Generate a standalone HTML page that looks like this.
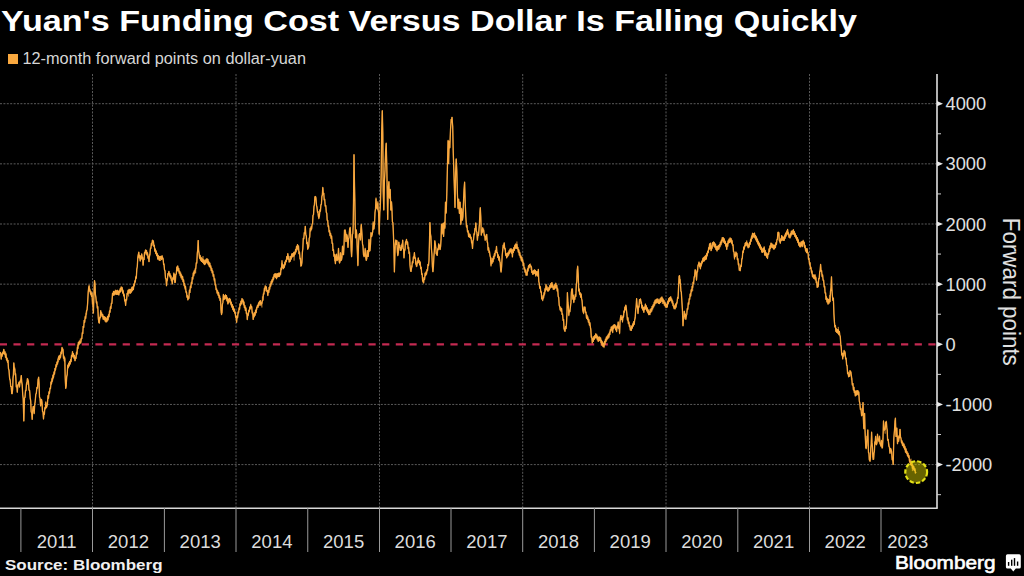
<!DOCTYPE html>
<html><head><meta charset="utf-8"><style>
html,body{margin:0;padding:0;background:#000;width:1024px;height:576px;overflow:hidden}
svg{display:block}
</style></head><body>
<svg width="1024" height="576" viewBox="0 0 1024 576">
<rect width="1024" height="576" fill="#000"/>
<text x="1" y="31" font-family='"Liberation Sans", sans-serif' font-weight="bold" font-size="30" fill="#ffffff" textLength="856" lengthAdjust="spacingAndGlyphs">Yuan's Funding Cost Versus Dollar Is Falling Quickly</text>
<rect x="8" y="54" width="10" height="10" fill="#f9a83f"/>
<text x="22.5" y="64.3" font-family='"Liberation Sans", sans-serif' font-size="15.6" fill="#d6d6d6" textLength="283.5" lengthAdjust="spacingAndGlyphs">12-month forward points on dollar-yuan</text>
<line x1="0" y1="103.70" x2="937" y2="103.70" stroke="#5a5a5a" stroke-width="1" stroke-dasharray="2 1.4"/>
<line x1="0" y1="163.85" x2="937" y2="163.85" stroke="#5a5a5a" stroke-width="1" stroke-dasharray="2 1.4"/>
<line x1="0" y1="224.00" x2="937" y2="224.00" stroke="#5a5a5a" stroke-width="1" stroke-dasharray="2 1.4"/>
<line x1="0" y1="284.15" x2="937" y2="284.15" stroke="#5a5a5a" stroke-width="1" stroke-dasharray="2 1.4"/>
<line x1="0" y1="404.45" x2="937" y2="404.45" stroke="#5a5a5a" stroke-width="1" stroke-dasharray="2 1.4"/>
<line x1="0" y1="464.60" x2="937" y2="464.60" stroke="#5a5a5a" stroke-width="1" stroke-dasharray="2 1.4"/>
<line x1="92.5" y1="74" x2="92.5" y2="508" stroke="#5a5a5a" stroke-width="1" stroke-dasharray="2 1.4"/>
<line x1="236" y1="74" x2="236" y2="508" stroke="#5a5a5a" stroke-width="1" stroke-dasharray="2 1.4"/>
<line x1="379.5" y1="74" x2="379.5" y2="508" stroke="#5a5a5a" stroke-width="1" stroke-dasharray="2 1.4"/>
<line x1="522.7" y1="74" x2="522.7" y2="508" stroke="#5a5a5a" stroke-width="1" stroke-dasharray="2 1.4"/>
<line x1="666" y1="74" x2="666" y2="508" stroke="#5a5a5a" stroke-width="1" stroke-dasharray="2 1.4"/>
<line x1="809.5" y1="74" x2="809.5" y2="508" stroke="#5a5a5a" stroke-width="1" stroke-dasharray="2 1.4"/>
<line x1="0" y1="344.3" x2="937" y2="344.3" stroke="#c42a52" stroke-width="2.3" stroke-dasharray="7.2 6.455" stroke-dashoffset="0.2"/>
<path d="M0.0,352.0 L0.6,352.4 L1.2,359.8 L1.6,353.8 L2.1,356.7 L2.5,351.7 L3.1,354.1 L3.8,349.4 L4.4,354.9 L5.0,351.2 L5.5,357.7 L6.0,352.9 L6.5,359.7 L7.0,357.9 L7.5,362.7 L8.0,359.8 L8.5,369.1 L9.0,369.9 L9.6,379.9 L10.2,379.4 L10.7,386.9 L11.2,386.2 L11.7,394.0 L12.2,392.4 L12.6,390.3 L13.0,378.6 L13.4,375.2 L13.8,362.2 L14.3,369.0 L14.8,367.5 L15.2,374.6 L15.6,373.2 L16.3,386.6 L16.8,385.9 L17.3,392.6 L17.9,384.3 L18.5,384.7 L19.0,382.4 L19.5,386.6 L20.1,380.8 L20.6,382.8 L21.3,375.1 L21.8,383.2 L22.2,383.3 L22.7,394.6 L23.2,398.3 L23.8,421.5 L24.5,398.1 L25.0,397.6 L25.5,390.2 L26.0,390.5 L26.5,382.2 L26.9,384.9 L27.4,378.6 L27.8,380.7 L28.4,381.2 L29.0,390.5 L29.6,390.3 L30.2,398.7 L30.7,401.0 L31.2,411.5 L31.7,412.2 L32.2,419.8 L32.7,409.2 L33.2,406.7 L33.7,407.0 L34.2,414.2 L34.7,403.7 L35.2,402.7 L35.8,394.5 L36.3,394.1 L36.9,387.3 L37.5,388.2 L38.1,379.1 L38.7,378.8 L39.1,383.1 L39.5,396.6 L40.0,398.0 L40.6,406.4 L41.1,399.5 L41.6,400.1 L42.0,402.1 L42.5,411.5 L43.0,411.0 L43.5,419.5 L43.9,412.1 L44.4,414.3 L44.8,407.3 L45.3,409.0 L45.8,401.3 L46.3,408.3 L46.8,405.7 L47.4,404.5 L48.0,395.1 L48.5,398.5 L49.0,391.5 L49.5,394.1 L50.0,387.8 L50.5,388.1 L51.0,381.9 L51.5,384.4 L52.0,377.7 L52.5,382.1 L53.0,374.7 L53.5,378.5 L54.0,371.2 L54.5,373.8 L55.0,368.2 L55.5,370.6 L56.0,364.3 L56.5,366.4 L57.0,361.6 L57.5,363.9 L58.0,359.2 L58.5,362.2 L59.0,356.4 L59.5,360.1 L60.0,354.7 L60.5,358.4 L61.0,351.4 L61.5,353.9 L62.0,347.7 L62.5,349.4 L63.0,349.6 L63.5,358.2 L63.9,355.8 L64.4,362.1 L64.8,358.9 L65.2,378.5 L65.7,388.4 L66.2,386.6 L66.7,377.0 L67.2,375.4 L67.7,364.5 L68.2,368.3 L68.7,363.4 L69.2,366.4 L69.6,361.1 L70.1,364.0 L70.6,359.0 L71.1,361.5 L71.5,355.6 L72.0,357.3 L72.5,352.3 L73.0,357.0 L73.5,353.0 L74.0,358.5 L74.5,356.0 L75.0,361.1 L75.5,357.9 L76.0,358.9 L76.5,352.5 L77.0,354.5 L77.4,344.6 L77.9,348.5 L78.4,342.2 L78.9,345.1 L79.4,340.6 L79.8,344.2 L80.3,338.6 L80.8,343.5 L81.3,337.8 L81.8,339.1 L82.3,331.9 L82.8,333.8 L83.2,326.1 L83.7,327.6 L84.2,320.3 L84.7,322.4 L85.2,315.8 L85.7,319.0 L86.1,313.1 L86.6,314.7 L87.1,308.9 L87.6,303.9 L88.2,291.8 L88.7,288.3 L89.1,284.7 L89.6,291.0 L90.0,288.6 L90.5,295.1 L91.0,291.3 L91.5,296.5 L92.0,292.6 L92.5,303.2 L92.9,304.1 L93.4,312.4 L94.0,292.4 L94.5,280.3 L95.0,284.1 L95.4,294.7 L95.9,296.9 L96.4,303.7 L96.8,301.6 L97.3,308.9 L97.8,307.4 L98.3,319.3 L98.8,322.3 L99.3,323.8 L99.8,316.9 L100.2,318.0 L100.7,310.1 L101.2,315.5 L101.7,312.1 L102.2,317.0 L102.7,314.4 L103.2,319.6 L103.7,316.1 L104.2,320.2 L104.7,316.5 L105.2,320.9 L105.6,317.1 L106.1,322.4 L106.6,318.0 L107.1,322.1 L107.5,316.7 L108.0,320.3 L108.5,314.6 L109.0,317.3 L109.5,310.1 L110.0,312.6 L110.4,307.2 L110.9,308.8 L111.4,302.7 L111.9,303.7 L112.5,296.1 L113.0,296.0 L113.5,291.9 L114.0,295.7 L114.5,291.3 L114.9,294.6 L115.4,289.6 L115.9,293.6 L116.4,290.3 L116.9,295.0 L117.3,289.8 L117.8,294.9 L118.3,290.6 L118.8,295.5 L119.3,290.6 L119.8,293.0 L120.2,288.9 L120.7,291.9 L121.2,286.8 L121.7,289.7 L122.2,286.9 L122.7,292.6 L123.2,289.7 L123.7,295.5 L124.2,293.6 L124.7,300.6 L125.1,299.6 L125.6,305.9 L126.1,299.0 L126.6,299.8 L127.1,293.3 L127.6,293.8 L128.1,289.7 L128.6,296.5 L129.1,288.8 L129.5,293.5 L130.0,288.9 L130.5,293.3 L131.0,289.0 L131.5,292.5 L131.9,286.7 L132.4,291.1 L132.9,286.4 L133.4,289.5 L133.9,284.0 L134.4,286.4 L134.9,280.4 L135.3,282.5 L135.8,275.9 L136.3,277.9 L136.8,269.1 L137.3,267.2 L137.8,256.1 L138.3,254.5 L138.8,251.7 L139.2,258.7 L139.7,255.3 L140.2,260.7 L140.7,255.2 L141.2,259.0 L141.7,253.4 L142.2,256.6 L142.6,257.3 L143.1,265.3 L143.6,259.0 L144.1,259.8 L144.5,252.4 L145.0,253.0 L145.5,249.3 L146.0,254.8 L146.5,250.7 L147.0,255.7 L147.5,252.4 L148.0,258.3 L148.5,255.9 L149.0,262.2 L149.5,255.0 L149.9,256.3 L150.4,247.5 L150.9,248.5 L151.4,243.3 L151.9,245.3 L152.4,240.5 L152.9,242.8 L153.4,240.2 L153.9,246.8 L154.3,244.9 L154.8,251.6 L155.3,248.7 L155.8,254.0 L156.2,251.3 L156.7,256.1 L157.2,253.7 L157.7,259.8 L158.2,255.1 L158.7,260.4 L159.1,256.0 L159.6,260.9 L160.1,257.0 L160.6,261.0 L161.1,256.6 L161.6,259.5 L162.1,255.1 L162.6,258.9 L163.1,257.5 L163.6,264.4 L164.0,263.2 L164.5,270.2 L165.0,270.3 L165.5,279.2 L166.0,278.2 L166.5,286.1 L167.0,279.3 L167.4,281.1 L167.9,273.5 L168.4,274.4 L168.9,271.5 L169.4,276.7 L169.9,273.2 L170.4,278.6 L170.9,275.4 L171.4,281.2 L171.8,278.7 L172.3,284.5 L172.8,277.5 L173.3,278.9 L173.8,272.4 L174.3,274.0 L174.8,281.8 L175.3,282.9 L175.8,274.2 L176.3,274.6 L176.8,266.4 L177.2,271.0 L177.7,266.1 L178.2,271.6 L178.7,268.2 L179.2,274.0 L179.7,270.8 L180.2,276.2 L180.7,272.2 L181.1,278.4 L181.6,274.3 L182.1,280.1 L182.6,276.6 L183.1,281.9 L183.6,279.0 L184.1,285.2 L184.5,283.1 L185.0,289.6 L185.5,286.5 L186.0,293.2 L186.5,291.5 L187.0,297.7 L187.5,295.3 L187.9,300.1 L188.4,297.3 L188.9,298.8 L189.4,291.9 L189.9,292.9 L190.4,285.9 L190.9,288.3 L191.4,281.7 L191.9,284.2 L192.3,277.3 L192.8,279.8 L193.3,273.0 L193.8,276.5 L194.2,270.8 L194.7,274.0 L195.2,268.1 L195.7,273.2 L196.3,262.2 L196.8,263.0 L197.3,252.8 L197.7,250.4 L198.2,240.0 L198.6,251.4 L199.1,253.1 L199.6,258.5 L200.1,255.4 L200.5,259.7 L201.0,257.1 L201.5,261.7 L202.0,257.6 L202.5,263.0 L203.0,256.0 L203.5,264.2 L204.0,259.4 L204.5,264.7 L205.0,261.3 L205.5,264.1 L205.9,260.0 L206.4,262.8 L206.9,258.1 L207.4,262.4 L207.9,259.6 L208.4,265.1 L208.8,261.9 L209.3,266.6 L209.8,262.8 L210.3,267.7 L210.8,265.0 L211.2,271.2 L211.7,268.2 L212.2,273.4 L212.7,270.8 L213.2,276.5 L213.7,274.2 L214.2,281.4 L214.7,278.1 L215.2,285.6 L215.6,283.8 L216.1,290.3 L216.6,288.6 L217.1,293.9 L217.6,290.7 L218.1,294.9 L218.6,292.2 L219.1,298.4 L219.6,294.9 L220.0,301.1 L220.5,298.0 L221.0,313.0 L221.5,313.7 L222.0,312.5 L222.4,303.6 L222.9,302.6 L223.4,293.9 L224.0,299.5 L224.5,295.5 L225.0,299.3 L225.5,294.2 L226.0,297.7 L226.5,295.2 L226.9,300.5 L227.4,297.4 L227.9,304.5 L228.4,299.8 L228.9,303.3 L229.3,298.2 L229.8,301.7 L230.3,298.6 L230.8,305.4 L231.3,301.7 L231.8,307.8 L232.3,305.0 L232.8,309.2 L233.2,305.8 L233.7,311.1 L234.2,309.0 L234.7,313.3 L235.2,311.7 L235.6,318.1 L236.1,315.9 L236.6,322.7 L237.1,315.1 L237.6,318.3 L238.1,310.9 L238.6,313.7 L239.1,307.8 L239.6,309.0 L240.0,304.0 L240.5,305.6 L241.0,300.9 L241.5,303.3 L242.0,298.3 L242.5,301.8 L243.0,299.7 L243.4,305.4 L243.9,301.9 L244.4,307.4 L244.9,305.0 L245.4,310.9 L245.9,308.4 L246.4,314.2 L246.9,312.6 L247.3,319.7 L247.8,314.2 L248.3,315.9 L248.8,309.8 L249.3,312.2 L249.8,306.7 L250.2,309.3 L250.7,303.8 L251.2,307.2 L251.7,306.3 L252.2,314.2 L252.7,311.5 L253.2,320.0 L253.7,314.1 L254.1,317.0 L254.6,312.3 L255.1,314.9 L255.6,310.5 L256.1,313.1 L256.6,307.6 L257.0,309.7 L257.5,304.8 L258.0,307.8 L258.5,302.2 L259.0,305.5 L259.5,300.8 L260.0,303.3 L260.5,300.1 L260.9,305.4 L261.4,302.2 L261.9,307.5 L262.4,296.4 L262.9,300.6 L263.4,292.6 L263.9,293.9 L264.4,287.7 L264.9,291.1 L265.3,285.7 L265.8,288.6 L266.3,286.4 L266.8,291.7 L267.3,290.2 L267.8,296.1 L268.3,290.5 L268.8,292.9 L269.2,286.9 L269.7,290.2 L270.2,284.1 L270.7,286.6 L271.2,281.7 L271.6,283.8 L272.1,279.8 L272.6,282.5 L273.1,276.6 L273.6,280.2 L274.1,274.3 L274.6,276.0 L275.1,273.3 L275.6,277.8 L276.0,275.8 L276.5,277.9 L277.0,273.2 L277.5,277.6 L278.0,273.1 L278.5,276.8 L279.0,272.2 L279.5,277.1 L280.0,273.4 L280.5,275.0 L281.0,268.4 L281.5,270.2 L282.0,263.1 L282.5,268.1 L282.9,264.6 L283.4,268.3 L283.9,264.6 L284.4,268.1 L284.9,261.8 L285.3,265.3 L285.8,259.9 L286.3,261.6 L286.8,256.2 L287.3,259.4 L287.8,253.6 L288.3,259.7 L288.8,256.0 L289.2,262.1 L289.7,259.2 L290.2,261.7 L290.7,256.1 L291.2,259.1 L291.7,253.5 L292.2,257.7 L292.7,253.4 L293.1,256.9 L293.6,251.8 L294.1,260.6 L294.6,252.1 L295.1,254.3 L295.6,249.6 L296.1,252.7 L296.5,246.0 L297.0,249.0 L297.5,244.1 L298.0,250.6 L298.5,247.9 L299.0,254.1 L299.5,251.7 L300.0,258.6 L300.4,258.1 L300.9,266.2 L301.4,265.2 L301.9,263.1 L302.4,251.1 L302.8,248.8 L303.3,237.8 L303.8,238.8 L304.3,232.1 L304.8,233.4 L305.3,226.0 L305.8,234.7 L306.3,235.9 L306.8,243.9 L307.3,243.1 L307.7,249.0 L308.2,247.0 L308.7,246.7 L309.2,238.4 L309.7,237.1 L310.2,227.8 L310.7,230.8 L311.1,226.4 L311.6,230.1 L312.1,223.9 L312.6,223.4 L313.0,215.6 L313.5,214.4 L314.0,206.7 L314.4,205.6 L314.9,197.3 L315.4,196.1 L315.9,196.8 L316.5,205.8 L317.0,206.5 L317.5,212.8 L317.9,211.0 L318.4,216.7 L318.9,215.2 L319.4,216.6 L319.9,209.3 L320.4,211.3 L320.9,204.3 L321.4,205.0 L321.9,195.5 L322.3,195.6 L322.8,187.9 L323.3,194.4 L323.8,193.3 L324.2,200.3 L324.7,199.3 L325.2,206.4 L325.8,205.2 L326.3,212.5 L326.8,212.7 L327.2,220.9 L327.7,220.3 L328.2,226.4 L328.6,225.4 L329.1,231.9 L329.6,230.2 L330.1,235.8 L330.6,233.4 L331.1,238.5 L331.6,235.8 L332.1,243.8 L332.6,242.7 L333.0,251.1 L333.5,249.4 L334.0,256.7 L334.4,254.2 L334.9,261.0 L335.4,258.8 L336.0,255.0 L336.5,254.5 L337.0,261.2 L337.5,260.1 L338.0,257.6 L338.5,248.2 L339.0,261.3 L339.5,262.8 L340.0,262.5 L340.5,252.4 L341.0,260.9 L341.5,260.2 L342.0,256.5 L342.5,246.3 L343.0,253.7 L343.5,254.3 L344.0,246.4 L344.5,230.2 L345.2,230.0 L345.6,231.9 L346.0,241.9 L346.5,233.8 L347.0,235.7 L347.5,236.9 L348.0,247.9 L348.5,238.8 L349.0,237.5 L349.6,229.0 L350.2,227.9 L350.8,237.5 L351.2,250.8 L351.6,256.0 L352.0,248.7 L352.4,234.3 L352.8,233.6 L353.2,225.7 L353.6,194.7 L354.0,154.7 L354.4,180.5 L354.8,197.6 L355.5,238.1 L355.9,229.4 L356.3,229.8 L356.8,235.2 L357.2,248.0 L357.9,265.4 L358.6,242.9 L359.1,234.3 L359.5,234.2 L360.0,233.0 L360.5,240.6 L360.9,228.8 L361.3,225.1 L362.0,233.6 L362.5,244.5 L363.0,246.4 L363.5,255.4 L364.0,256.2 L364.6,256.1 L365.2,247.8 L365.8,258.7 L366.3,260.4 L366.8,258.8 L367.3,250.2 L367.8,256.9 L368.2,256.3 L368.6,251.7 L369.0,239.6 L369.5,251.9 L370.0,249.1 L370.5,245.7 L371.0,232.0 L371.6,237.0 L372.2,233.8 L372.7,232.3 L373.2,221.2 L373.6,229.9 L374.0,227.4 L374.5,223.7 L375.0,212.3 L375.5,208.5 L376.0,197.5 L376.5,205.0 L377.0,208.0 L377.4,208.8 L377.8,201.2 L378.2,210.9 L378.6,211.6 L379.2,234.5 L379.8,211.9 L380.2,209.0 L380.6,195.2 L381.2,174.0 L381.7,130.6 L382.3,111.0 L382.8,133.1 L383.2,192.7 L383.8,210.4 L384.4,182.5 L385.0,169.5 L385.6,152.4 L386.2,143.4 L386.8,166.9 L387.3,198.6 L387.7,220.0 L388.3,187.8 L388.9,181.7 L389.5,198.1 L390.2,189.6 L390.8,210.0 L391.5,201.7 L391.9,207.6 L392.4,221.8 L392.9,222.2 L393.3,231.7 L393.9,247.2 L394.4,272.3 L394.9,253.6 L395.3,244.3 L395.8,239.4 L396.4,244.4 L396.9,240.7 L397.4,252.5 L397.8,255.4 L398.3,253.0 L398.8,241.9 L399.3,247.8 L399.8,244.8 L400.3,250.8 L400.8,247.2 L401.3,250.2 L401.8,243.7 L402.2,246.7 L402.7,240.3 L403.1,248.4 L403.6,249.2 L404.0,258.5 L404.5,249.2 L405.0,250.7 L405.5,241.3 L406.0,243.0 L406.5,239.8 L407.1,245.0 L407.6,241.5 L408.1,248.5 L408.6,247.6 L409.0,254.1 L409.5,252.2 L410.0,265.4 L410.5,269.2 L411.0,272.0 L411.4,265.6 L411.9,267.1 L412.4,261.0 L412.9,262.9 L413.4,256.9 L413.9,258.7 L414.4,252.5 L414.9,258.6 L415.4,257.1 L415.8,264.4 L416.3,267.0 L416.8,266.8 L417.3,260.3 L417.8,263.0 L418.3,258.1 L418.8,262.3 L419.2,260.0 L419.7,265.0 L420.2,262.3 L420.7,268.3 L421.2,266.8 L421.7,274.1 L422.2,273.5 L422.6,281.5 L423.1,281.5 L423.6,282.7 L424.1,277.2 L424.6,278.8 L425.1,272.6 L425.6,275.9 L426.1,271.6 L426.5,274.1 L427.0,269.7 L427.5,270.9 L428.0,264.3 L428.5,265.9 L429.0,260.3 L429.4,244.7 L429.9,222.4 L430.4,233.5 L430.9,236.8 L431.4,249.7 L431.9,253.5 L432.4,266.4 L432.9,271.9 L433.4,267.9 L433.9,255.0 L434.3,252.8 L434.8,240.6 L435.3,247.4 L435.8,247.0 L436.2,254.0 L436.7,254.4 L437.2,255.5 L437.7,248.8 L438.2,250.1 L438.7,243.7 L439.2,249.3 L439.6,244.8 L440.1,250.1 L440.6,246.4 L441.1,238.4 L441.5,223.6 L442.2,234.7 L442.6,224.2 L443.0,224.7 L443.6,236.3 L444.3,223.0 L444.9,227.3 L445.5,202.0 L446.2,212.2 L446.8,193.6 L447.4,167.8 L448.1,140.8 L448.6,162.8 L449.2,141.9 L449.8,147.7 L450.5,130.8 L451.2,119.3 L451.6,121.9 L452.0,116.9 L452.7,126.6 L453.2,150.3 L453.8,170.8 L454.4,188.4 L455.0,207.8 L455.6,173.4 L456.2,159.0 L456.8,169.7 L457.4,194.1 L458.0,207.8 L458.7,200.5 L459.4,213.1 L460.1,202.2 L460.8,224.0 L461.2,219.7 L461.6,207.8 L462.0,218.8 L462.4,220.4 L462.9,216.8 L463.3,206.3 L464.0,190.6 L464.6,181.6 L465.2,201.6 L465.8,215.8 L466.5,227.0 L467.0,224.9 L467.5,232.4 L468.1,230.4 L468.6,236.9 L469.1,232.7 L469.6,238.0 L470.1,233.8 L470.6,238.5 L471.1,236.7 L471.6,243.3 L472.0,242.5 L472.5,248.0 L473.0,240.3 L473.5,239.7 L474.0,232.8 L474.5,235.2 L474.9,228.6 L475.4,229.2 L475.8,223.2 L476.3,231.0 L476.9,232.4 L477.4,240.4 L477.9,233.9 L478.5,235.0 L479.0,229.0 L479.4,224.8 L479.9,212.3 L480.3,208.2 L480.8,217.3 L481.3,235.5 L481.8,230.1 L482.2,233.3 L482.7,227.4 L483.2,231.5 L483.7,228.6 L484.2,236.4 L484.7,234.2 L485.2,241.0 L485.7,236.0 L486.2,239.7 L486.7,234.0 L487.2,242.5 L487.6,241.7 L488.1,250.2 L488.6,247.1 L489.1,253.0 L489.5,250.6 L490.0,256.8 L490.5,256.9 L491.0,266.6 L491.5,257.7 L492.0,263.9 L492.5,258.6 L493.0,262.3 L493.5,256.0 L493.9,259.5 L494.4,254.1 L494.9,256.5 L495.4,250.2 L496.0,253.1 L496.5,246.6 L496.9,252.7 L497.4,252.0 L497.8,258.1 L498.3,255.1 L498.8,259.7 L499.3,256.6 L499.8,261.6 L500.2,262.6 L500.7,271.3 L501.1,271.6 L501.6,267.2 L502.2,255.1 L502.7,251.2 L503.2,244.6 L503.7,247.5 L504.2,242.8 L504.7,249.4 L505.2,248.7 L505.7,255.8 L506.2,253.5 L506.7,257.2 L507.1,253.5 L507.6,257.1 L508.1,252.0 L508.6,255.0 L509.1,250.1 L509.5,253.5 L510.0,248.5 L510.5,251.9 L511.0,248.2 L511.4,253.8 L511.9,249.5 L512.4,254.2 L512.9,248.8 L513.4,252.5 L513.8,246.9 L514.3,250.1 L514.8,245.6 L515.3,249.1 L515.8,244.0 L516.4,248.8 L516.9,241.5 L517.4,249.2 L517.8,247.1 L518.3,252.6 L518.8,249.7 L519.3,255.9 L519.8,251.8 L520.3,258.3 L520.8,255.1 L521.3,260.9 L521.8,256.7 L522.2,262.0 L522.7,259.7 L523.2,264.8 L523.7,262.6 L524.1,270.0 L524.6,267.5 L525.1,272.3 L525.6,269.4 L526.1,275.6 L526.6,272.7 L527.1,275.9 L527.5,268.4 L528.0,270.8 L528.5,265.5 L529.0,268.3 L529.5,264.4 L530.0,267.8 L530.5,263.6 L531.0,269.9 L531.5,266.8 L531.9,273.0 L532.4,271.3 L532.9,274.3 L533.4,270.3 L533.9,274.3 L534.4,269.6 L534.9,274.0 L535.3,270.1 L535.8,275.3 L536.3,271.3 L536.8,275.6 L537.3,271.3 L537.8,276.9 L538.3,272.7 L538.8,282.1 L539.2,282.8 L539.7,288.8 L540.3,286.9 L540.8,292.4 L541.3,291.4 L541.7,299.1 L542.2,298.1 L542.7,301.2 L543.2,295.9 L543.6,298.8 L544.1,292.1 L544.6,295.4 L545.0,287.9 L545.5,291.4 L546.0,283.9 L546.5,289.2 L547.0,285.9 L547.5,291.3 L548.0,288.9 L548.5,291.4 L549.0,287.0 L549.4,290.3 L549.9,285.2 L550.4,288.6 L550.9,283.1 L551.4,287.6 L551.9,282.2 L552.4,287.3 L552.8,283.8 L553.3,290.0 L553.8,286.7 L554.3,289.4 L554.8,284.1 L555.3,288.3 L555.8,283.1 L556.3,287.6 L556.8,284.8 L557.2,291.5 L557.7,287.8 L558.2,296.6 L558.7,296.6 L559.2,305.7 L559.7,306.0 L560.2,310.2 L560.7,306.6 L561.1,311.8 L561.6,308.2 L562.1,314.9 L562.6,313.0 L563.1,320.8 L563.6,319.4 L564.0,328.0 L564.5,329.7 L565.0,331.9 L565.5,326.3 L566.0,328.8 L566.5,323.9 L567.0,312.3 L567.4,292.5 L567.9,302.8 L568.3,305.3 L568.8,316.2 L569.3,309.6 L569.9,312.3 L570.4,305.6 L570.9,302.9 L571.4,292.0 L571.9,288.9 L572.4,291.2 L572.8,295.9 L573.3,295.0 L573.8,302.0 L574.3,297.3 L574.8,300.0 L575.3,294.6 L575.8,296.8 L576.3,284.4 L576.8,281.7 L577.2,269.6 L577.7,267.2 L578.2,275.0 L578.7,291.1 L579.2,288.6 L579.6,294.9 L580.1,292.9 L580.6,297.5 L581.1,294.3 L581.6,299.3 L582.1,299.7 L582.7,310.8 L583.2,311.8 L583.6,314.2 L584.1,306.4 L584.5,308.2 L585.0,307.4 L585.5,313.2 L586.0,311.4 L586.5,318.9 L587.0,315.6 L587.5,319.6 L587.9,316.3 L588.4,321.7 L588.9,319.0 L589.4,325.3 L589.9,322.0 L590.4,328.6 L590.8,328.2 L591.3,337.8 L591.8,336.2 L592.3,343.4 L592.8,339.0 L593.3,342.0 L593.8,336.1 L594.3,339.9 L594.8,335.1 L595.2,338.2 L595.7,333.7 L596.2,337.5 L596.7,333.8 L597.2,340.3 L597.7,335.7 L598.2,341.4 L598.7,337.1 L599.2,340.5 L599.6,336.6 L600.1,341.0 L600.6,338.0 L601.0,342.7 L601.5,340.6 L602.0,345.3 L602.5,341.1 L603.0,346.4 L603.5,343.1 L604.0,348.1 L604.5,341.8 L605.0,344.9 L605.4,338.6 L605.9,342.2 L606.4,336.6 L606.9,340.4 L607.4,335.0 L607.9,338.5 L608.4,334.4 L608.9,338.1 L609.4,331.6 L609.8,335.1 L610.3,329.2 L610.8,331.9 L611.3,326.6 L611.8,330.3 L612.2,325.9 L612.7,329.4 L613.2,325.1 L613.7,328.9 L614.2,324.0 L614.7,327.4 L615.2,325.3 L615.7,326.5 L616.1,326.4 L616.6,331.5 L617.1,325.3 L617.7,328.5 L618.2,321.6 L618.7,328.0 L619.1,326.6 L619.6,334.2 L620.0,322.2 L620.5,317.7 L621.0,315.3 L621.5,319.8 L622.0,317.3 L622.5,322.7 L623.0,316.0 L623.5,317.5 L623.9,310.4 L624.4,312.5 L624.9,306.4 L625.3,309.6 L625.8,305.2 L626.2,308.1 L626.9,313.8 L627.4,319.7 L627.9,318.2 L628.4,324.2 L628.9,321.7 L629.4,327.1 L629.8,325.0 L630.3,330.7 L630.8,326.7 L631.3,330.6 L631.8,326.0 L632.3,328.9 L632.8,322.8 L633.3,326.5 L633.8,321.5 L634.2,325.1 L634.7,320.0 L635.2,318.9 L635.7,308.4 L636.1,307.1 L636.6,298.4 L637.1,306.1 L637.5,305.5 L638.0,314.1 L638.5,305.8 L639.0,306.8 L639.5,299.7 L640.0,300.5 L640.5,298.5 L641.0,300.4 L641.4,301.6 L641.9,307.9 L642.4,304.9 L642.8,310.0 L643.3,307.4 L643.8,312.7 L644.3,306.9 L644.9,309.0 L645.4,303.5 L645.9,308.9 L646.3,305.6 L646.8,311.6 L647.3,308.3 L647.8,313.4 L648.3,309.3 L648.8,315.0 L649.3,311.8 L649.8,315.2 L650.2,309.1 L650.7,312.7 L651.2,308.4 L651.7,310.9 L652.2,306.0 L652.7,309.8 L653.2,304.4 L653.7,307.6 L654.2,301.5 L654.6,305.0 L655.1,300.5 L655.6,303.3 L656.1,299.8 L656.6,303.0 L657.1,298.7 L657.6,302.7 L658.0,299.0 L658.5,303.3 L659.0,300.8 L659.5,303.3 L660.0,298.6 L660.5,302.2 L660.9,297.9 L661.4,301.0 L661.9,296.6 L662.4,304.0 L662.9,298.7 L663.4,303.0 L663.9,299.9 L664.4,305.4 L664.9,301.5 L665.4,306.7 L665.8,303.4 L666.3,307.6 L666.8,304.0 L667.3,307.5 L667.8,300.6 L668.2,303.6 L668.7,297.9 L669.2,301.9 L669.7,297.4 L670.2,301.1 L670.7,296.4 L671.2,300.9 L671.7,298.6 L672.1,303.7 L672.6,300.6 L673.1,305.9 L673.6,303.2 L674.1,308.1 L674.6,306.2 L675.1,309.3 L675.5,303.5 L676.0,307.6 L676.5,302.1 L677.0,304.3 L677.6,296.8 L678.1,298.8 L678.6,282.7 L679.1,276.1 L679.5,275.2 L680.0,284.0 L680.4,279.2 L680.9,291.0 L681.3,292.1 L681.8,300.6 L682.4,309.4 L683.0,326.3 L683.4,318.6 L683.9,319.3 L684.3,310.8 L684.8,317.2 L685.3,313.6 L685.8,319.9 L686.3,312.4 L686.8,310.3 L687.3,308.1 L687.8,309.9 L688.3,302.7 L688.8,305.0 L689.2,298.0 L689.7,299.5 L690.2,294.1 L690.7,295.9 L691.2,289.6 L691.7,292.3 L692.2,285.7 L692.7,291.0 L693.1,282.2 L693.6,283.8 L694.1,276.0 L694.6,277.4 L695.1,269.7 L695.6,270.3 L696.0,271.4 L696.5,280.6 L697.0,272.8 L697.5,272.1 L698.0,265.2 L698.5,264.9 L699.0,261.5 L699.5,267.3 L699.9,264.2 L700.4,268.3 L700.9,263.8 L701.4,266.5 L701.9,260.8 L702.4,263.5 L702.9,257.7 L703.3,261.5 L703.8,257.7 L704.3,260.6 L704.8,256.8 L705.3,260.1 L705.8,255.8 L706.3,259.2 L706.8,253.4 L707.2,256.4 L707.7,253.2 L708.2,252.9 L708.7,247.5 L709.1,249.9 L709.6,243.7 L710.1,248.4 L710.6,246.1 L711.1,250.8 L711.6,245.4 L712.1,248.9 L712.6,243.0 L713.1,244.9 L713.6,241.4 L714.0,246.7 L714.5,242.1 L715.0,247.1 L715.5,244.2 L716.0,249.5 L716.5,246.1 L717.0,251.7 L717.5,246.6 L718.0,249.9 L718.4,245.7 L718.9,249.6 L719.4,244.8 L719.9,247.4 L720.4,242.1 L720.9,245.3 L721.4,239.6 L721.8,243.3 L722.3,237.4 L722.8,240.7 L723.3,237.2 L723.8,242.5 L724.2,238.6 L724.7,243.8 L725.2,240.6 L725.7,246.8 L726.2,243.6 L726.7,249.9 L727.2,242.9 L727.7,246.6 L728.1,240.8 L728.6,243.6 L729.1,238.5 L729.6,242.8 L730.1,237.2 L730.6,241.9 L731.1,238.7 L731.5,244.0 L732.0,240.8 L732.5,245.4 L733.0,244.5 L733.5,251.8 L734.0,252.0 L734.5,259.7 L735.0,254.0 L735.5,257.0 L735.9,251.7 L736.4,254.5 L736.9,253.6 L737.4,259.7 L737.9,258.6 L738.4,265.4 L738.8,263.0 L739.3,270.4 L739.7,269.6 L740.2,270.8 L740.8,264.5 L741.3,267.0 L741.8,258.9 L742.3,259.2 L742.8,250.4 L743.3,252.4 L743.8,246.5 L744.3,249.8 L744.8,242.9 L745.3,246.1 L745.8,242.4 L746.2,245.4 L746.7,240.3 L747.2,245.4 L747.7,243.4 L748.1,247.6 L748.6,244.5 L749.1,247.2 L749.6,242.4 L750.1,244.4 L750.6,238.7 L751.1,241.2 L751.5,235.4 L752.0,238.8 L752.5,232.8 L753.0,238.0 L753.5,233.2 L754.0,237.3 L754.5,232.5 L755.0,237.9 L755.5,235.6 L755.9,240.3 L756.4,236.4 L756.9,241.9 L757.4,238.9 L757.9,243.9 L758.4,240.8 L758.9,246.3 L759.3,243.2 L759.8,248.7 L760.3,245.2 L760.8,250.1 L761.3,247.2 L761.8,252.6 L762.3,249.2 L762.8,252.2 L763.2,248.1 L763.7,251.6 L764.2,246.1 L764.7,252.9 L765.2,249.8 L765.7,256.1 L766.2,252.2 L766.6,257.2 L767.1,253.8 L767.5,259.1 L768.0,252.9 L768.6,254.3 L769.1,248.7 L769.6,251.1 L770.0,245.7 L770.5,248.9 L771.0,242.8 L771.5,247.7 L772.0,243.9 L772.5,248.0 L773.0,244.2 L773.5,249.8 L774.0,245.1 L774.4,248.7 L774.9,244.5 L775.4,247.0 L775.9,242.5 L776.4,244.8 L776.9,239.0 L777.4,239.4 L777.9,231.9 L778.4,232.0 L778.9,232.1 L779.3,240.4 L779.8,240.7 L780.3,243.9 L780.8,238.4 L781.2,240.5 L781.7,235.3 L782.2,239.2 L782.7,236.7 L783.2,240.6 L783.7,237.0 L784.2,240.8 L784.7,234.5 L785.1,238.9 L785.6,233.2 L786.1,236.8 L786.6,230.5 L787.1,234.0 L787.6,229.7 L788.1,235.2 L788.5,232.7 L789.0,237.8 L789.5,235.2 L790.0,238.0 L790.5,232.9 L790.9,236.8 L791.4,231.4 L791.9,234.9 L792.4,230.8 L792.9,234.1 L793.4,229.2 L793.9,234.5 L794.3,231.6 L794.8,236.7 L795.3,232.9 L795.8,238.7 L796.3,235.1 L796.8,240.6 L797.3,237.2 L797.8,238.2 L798.3,240.2 L798.8,245.7 L799.3,242.4 L799.8,247.1 L800.3,242.5 L800.8,247.4 L801.2,241.3 L801.7,245.3 L802.2,240.9 L802.7,244.9 L803.2,239.8 L803.7,243.6 L804.2,241.9 L804.7,248.2 L805.1,245.1 L805.6,251.4 L806.1,248.1 L806.6,253.0 L807.1,248.3 L807.6,253.1 L808.1,252.2 L808.5,259.8 L809.0,258.0 L809.5,264.6 L810.0,262.2 L810.5,268.8 L811.0,266.7 L811.5,273.5 L812.0,270.1 L812.5,276.9 L813.0,275.2 L813.5,278.6 L814.0,274.7 L814.5,278.2 L815.0,274.0 L815.4,280.0 L815.9,276.6 L816.3,282.6 L816.8,280.9 L817.2,287.9 L817.7,286.5 L818.2,286.3 L818.7,278.4 L819.2,278.8 L819.7,270.9 L820.1,271.1 L820.6,264.6 L821.1,271.1 L821.6,270.2 L822.1,277.2 L822.6,275.2 L823.1,280.3 L823.6,279.9 L824.2,287.5 L824.7,286.4 L825.1,293.6 L825.6,292.4 L826.0,299.6 L826.5,296.2 L827.0,302.6 L827.5,298.2 L828.0,304.6 L828.5,299.3 L829.0,303.7 L829.5,295.1 L830.0,301.8 L830.5,290.3 L831.0,288.1 L831.5,276.6 L831.9,290.1 L832.3,293.7 L832.8,300.9 L833.4,297.9 L833.9,314.0 L834.4,321.9 L834.9,327.3 L835.4,325.3 L835.9,331.8 L836.4,328.6 L836.8,332.8 L837.3,329.2 L837.8,333.9 L838.3,326.9 L838.8,334.4 L839.3,331.0 L839.8,336.0 L840.3,336.1 L840.8,346.1 L841.2,345.4 L841.7,355.5 L842.2,353.5 L842.7,359.7 L843.2,353.5 L843.7,356.8 L844.1,351.0 L844.6,353.8 L845.1,351.2 L845.6,359.4 L846.1,358.3 L846.6,365.6 L847.1,365.2 L847.6,374.0 L848.1,371.8 L848.6,377.0 L849.1,373.7 L849.6,377.0 L850.0,370.5 L850.5,373.1 L850.9,371.6 L851.4,379.7 L851.8,378.4 L852.3,384.4 L852.9,383.0 L853.4,390.6 L853.9,386.8 L854.3,393.1 L854.8,390.0 L855.3,396.7 L855.8,390.8 L856.3,395.8 L856.8,390.2 L857.3,394.6 L857.8,390.2 L858.3,395.1 L858.8,392.4 L859.3,401.4 L859.8,402.4 L860.4,409.0 L861.0,407.9 L861.6,416.2 L862.2,414.9 L862.6,412.8 L863.0,402.3 L863.4,419.0 L863.8,427.6 L864.2,424.6 L864.6,413.3 L865.0,430.3 L865.4,438.3 L865.8,447.9 L866.2,447.3 L866.6,446.2 L867.0,436.5 L867.4,437.3 L867.8,429.5 L868.5,453.2 L868.9,453.0 L869.3,460.4 L870.0,461.1 L870.4,458.7 L870.8,447.6 L871.2,444.7 L871.6,431.6 L872.0,443.0 L872.4,445.2 L872.8,457.1 L873.2,459.4 L873.6,460.0 L874.0,453.2 L874.4,452.1 L874.8,441.7 L875.2,442.6 L875.6,435.9 L876.0,443.9 L876.5,444.5 L877.0,443.6 L877.5,434.5 L878.0,440.2 L878.5,439.0 L879.0,442.3 L879.5,436.3 L880.0,444.5 L880.5,444.1 L881.0,446.6 L881.5,439.8 L882.0,447.7 L882.4,447.7 L883.0,438.1 L883.5,420.5 L884.0,430.2 L884.5,429.9 L885.2,433.7 L885.6,422.7 L886.0,423.0 L886.4,420.8 L886.8,428.0 L887.2,430.2 L887.6,440.7 L888.2,439.0 L888.8,443.2 L889.4,445.7 L890.0,453.5 L890.5,448.5 L891.0,450.3 L891.6,451.1 L892.2,459.7 L892.7,459.0 L893.2,465.0 L893.8,437.2 L894.5,430.6 L895.0,420.9 L895.4,419.3 L896.0,436.5 L896.4,435.8 L896.8,427.4 L897.5,443.8 L898.2,435.2 L898.6,441.8 L899.0,438.5 L899.5,438.2 L900.0,429.1 L900.5,438.2 L901.0,438.5 L901.5,443.1 L902.0,440.4 L902.5,445.6 L903.0,443.2 L903.5,447.9 L904.0,443.4 L904.5,449.3 L905.0,447.2 L905.5,452.2 L906.0,448.2 L906.5,453.7 L907.0,450.9 L907.5,456.2 L908.0,452.6 L908.5,457.5 L909.0,455.2 L909.5,462.7 L910.0,459.2 L910.5,465.1 L911.0,458.7 L911.5,465.9 L911.9,462.4 L912.4,471.1 L912.8,464.7 L913.3,470.2 L913.8,466.7 L914.3,470.6 L914.9,468.5 L915.4,473.4 L916.0,472.0" fill="none" stroke="#f9a83f" stroke-opacity="0.55" stroke-width="0.9" stroke-linejoin="round"/>
<path d="M0.0,352.0 L0.6,353.0 L1.2,358.8 L1.6,354.3 L2.1,356.2 L2.5,352.9 L3.1,353.7 L3.8,349.4 L4.4,353.7 L5.0,352.2 L5.5,357.1 L6.0,354.5 L6.5,360.0 L7.0,358.1 L7.5,362.1 L8.0,360.7 L8.5,368.8 L9.0,370.3 L9.6,378.2 L10.2,380.2 L10.7,386.4 L11.2,386.4 L11.7,393.5 L12.2,393.6 L12.6,389.2 L13.0,378.1 L13.4,374.7 L13.8,363.4 L14.3,368.8 L14.8,368.9 L15.2,374.9 L15.6,373.9 L16.3,386.9 L16.8,385.8 L17.3,392.0 L17.9,384.9 L18.5,384.2 L19.0,382.2 L19.5,387.0 L20.1,381.0 L20.6,381.1 L21.3,375.7 L21.8,382.7 L22.2,384.8 L22.7,394.5 L23.2,398.8 L23.8,420.7 L24.5,398.0 L25.0,397.4 L25.5,390.5 L26.0,390.7 L26.5,383.7 L26.9,384.0 L27.4,378.6 L27.8,379.1 L28.4,381.5 L29.0,390.1 L29.6,390.3 L30.2,397.8 L30.7,400.9 L31.2,412.1 L31.7,412.5 L32.2,419.2 L32.7,410.3 L33.2,406.3 L33.7,407.0 L34.2,413.1 L34.7,404.8 L35.2,401.1 L35.8,394.2 L36.3,393.4 L36.9,387.5 L37.5,388.0 L38.1,379.4 L38.7,377.2 L39.1,384.0 L39.5,397.0 L40.0,398.4 L40.6,405.7 L41.1,399.3 L41.6,399.7 L42.0,402.0 L42.5,411.4 L43.0,412.2 L43.5,418.7 L43.9,413.2 L44.4,414.3 L44.8,408.0 L45.3,409.0 L45.8,402.7 L46.3,407.5 L46.8,406.9 L47.4,404.4 L48.0,395.8 L48.5,398.1 L49.0,391.8 L49.5,393.3 L50.0,388.0 L50.5,388.5 L51.0,382.0 L51.5,383.8 L52.0,378.8 L52.5,380.1 L53.0,375.1 L53.5,377.3 L54.0,372.5 L54.5,374.2 L55.0,368.5 L55.5,369.9 L56.0,364.8 L56.5,366.8 L57.0,362.1 L57.5,364.2 L58.0,359.2 L58.5,357.5 L59.0,355.9 L59.5,359.4 L60.0,355.3 L60.5,357.4 L61.0,352.3 L61.5,353.6 L62.0,347.4 L62.5,348.6 L63.0,349.4 L63.5,358.1 L63.9,356.1 L64.4,360.7 L64.8,357.8 L65.2,377.3 L65.7,388.3 L66.2,385.9 L66.7,376.5 L67.2,374.5 L67.7,365.6 L68.2,367.7 L68.7,363.2 L69.2,365.8 L69.6,361.6 L70.1,364.2 L70.6,359.7 L71.1,361.6 L71.5,355.5 L72.0,357.0 L72.5,351.6 L73.0,355.9 L73.5,354.0 L74.0,358.0 L74.5,355.7 L75.0,360.6 L75.5,357.6 L76.0,358.2 L76.5,352.2 L77.0,353.9 L77.4,347.5 L77.9,348.6 L78.4,342.4 L78.9,344.8 L79.4,341.2 L79.8,343.1 L80.3,342.8 L80.8,342.1 L81.3,338.8 L81.8,338.4 L82.3,333.0 L82.8,333.3 L83.2,326.4 L83.7,327.5 L84.2,320.4 L84.7,322.3 L85.2,317.0 L85.7,318.1 L86.1,313.5 L86.6,310.6 L87.1,309.7 L87.6,303.6 L88.2,292.4 L88.7,287.3 L89.1,286.1 L89.6,291.1 L90.0,290.2 L90.5,293.5 L91.0,291.9 L91.5,296.3 L92.0,293.6 L92.5,304.1 L92.9,304.6 L93.4,313.1 L94.0,293.5 L94.5,280.6 L95.0,283.7 L95.4,294.3 L95.9,297.6 L96.4,302.8 L96.8,301.9 L97.3,307.7 L97.8,306.7 L98.3,317.8 L98.8,322.4 L99.3,322.7 L99.8,317.1 L100.2,317.9 L100.7,310.9 L101.2,314.9 L101.7,313.3 L102.2,316.7 L102.7,314.6 L103.2,319.0 L103.7,316.4 L104.2,319.4 L104.7,316.8 L105.2,321.1 L105.6,317.6 L106.1,321.9 L106.6,319.2 L107.1,320.8 L107.5,316.6 L108.0,319.8 L108.5,314.9 L109.0,316.6 L109.5,311.4 L110.0,312.1 L110.4,307.0 L110.9,308.5 L111.4,303.3 L111.9,303.3 L112.5,293.5 L113.0,295.1 L113.5,291.5 L114.0,294.9 L114.5,291.9 L114.9,294.0 L115.4,290.7 L115.9,294.1 L116.4,291.0 L116.9,294.3 L117.3,290.5 L117.8,294.0 L118.3,291.5 L118.8,294.6 L119.3,291.0 L119.8,292.7 L120.2,288.7 L120.7,291.4 L121.2,287.0 L121.7,289.8 L122.2,287.9 L122.7,293.2 L123.2,291.2 L123.7,295.9 L124.2,294.8 L124.7,301.0 L125.1,299.8 L125.6,305.3 L126.1,299.6 L126.6,300.0 L127.1,293.4 L127.6,294.1 L128.1,290.6 L128.6,293.1 L129.1,289.7 L129.5,292.7 L130.0,289.7 L130.5,293.1 L131.0,289.2 L131.5,291.8 L131.9,287.6 L132.4,290.5 L132.9,287.0 L133.4,289.5 L133.9,283.9 L134.4,285.2 L134.9,280.8 L135.3,281.8 L135.8,277.1 L136.3,278.3 L136.8,269.1 L137.3,266.5 L137.8,257.6 L138.3,254.6 L138.8,252.5 L139.2,257.5 L139.7,255.5 L140.2,261.0 L140.7,256.6 L141.2,259.1 L141.7,254.2 L142.2,257.1 L142.6,257.3 L143.1,265.1 L143.6,259.2 L144.1,259.3 L144.5,252.7 L145.0,252.6 L145.5,250.3 L146.0,253.2 L146.5,250.5 L147.0,254.6 L147.5,252.8 L148.0,258.2 L148.5,256.9 L149.0,261.4 L149.5,254.7 L149.9,254.6 L150.4,248.7 L150.9,248.3 L151.4,243.4 L151.9,245.4 L152.4,240.2 L152.9,242.4 L153.4,241.3 L153.9,246.2 L154.3,245.3 L154.8,251.0 L155.3,249.1 L155.8,253.6 L156.2,250.8 L156.7,255.5 L157.2,253.5 L157.7,258.6 L158.2,255.4 L158.7,258.9 L159.1,256.7 L159.6,260.1 L160.1,256.5 L160.6,258.4 L161.1,256.3 L161.6,259.4 L162.1,256.1 L162.6,258.9 L163.1,258.7 L163.6,264.5 L164.0,264.4 L164.5,269.7 L165.0,270.9 L165.5,278.2 L166.0,278.7 L166.5,285.6 L167.0,279.4 L167.4,279.5 L167.9,273.6 L168.4,273.9 L168.9,271.4 L169.4,275.6 L169.9,273.9 L170.4,277.7 L170.9,276.0 L171.4,280.7 L171.8,279.4 L172.3,283.7 L172.8,277.9 L173.3,279.5 L173.8,273.6 L174.3,274.1 L174.8,282.4 L175.3,282.1 L175.8,274.5 L176.3,274.0 L176.8,267.4 L177.2,270.5 L177.7,265.8 L178.2,270.7 L178.7,268.3 L179.2,272.7 L179.7,271.3 L180.2,275.2 L180.7,273.6 L181.1,277.2 L181.6,275.4 L182.1,279.0 L182.6,276.6 L183.1,281.8 L183.6,280.2 L184.1,285.6 L184.5,283.6 L185.0,287.9 L185.5,286.4 L186.0,291.9 L186.5,292.0 L187.0,297.0 L187.5,295.9 L187.9,299.9 L188.4,297.2 L188.9,298.2 L189.4,290.2 L189.9,292.4 L190.4,286.2 L190.9,287.6 L191.4,282.3 L191.9,283.7 L192.3,277.3 L192.8,279.0 L193.3,272.9 L193.8,275.2 L194.2,270.8 L194.7,273.2 L195.2,269.5 L195.7,268.7 L196.3,262.8 L196.8,263.1 L197.3,253.5 L197.7,249.9 L198.2,240.7 L198.6,250.3 L199.1,253.5 L199.6,258.1 L200.1,255.3 L200.5,260.1 L201.0,257.3 L201.5,261.4 L202.0,258.6 L202.5,261.8 L203.0,259.3 L203.5,263.0 L204.0,260.3 L204.5,264.5 L205.0,260.8 L205.5,263.9 L205.9,259.5 L206.4,261.9 L206.9,258.8 L207.4,263.0 L207.9,259.5 L208.4,264.6 L208.8,261.9 L209.3,266.3 L209.8,263.2 L210.3,267.6 L210.8,266.3 L211.2,270.3 L211.7,268.4 L212.2,272.6 L212.7,271.0 L213.2,276.2 L213.7,274.7 L214.2,279.8 L214.7,279.1 L215.2,284.8 L215.6,284.2 L216.1,289.4 L216.6,288.9 L217.1,292.7 L217.6,290.8 L218.1,295.3 L218.6,292.7 L219.1,297.6 L219.6,296.0 L220.0,300.1 L220.5,298.5 L221.0,309.4 L221.5,314.5 L222.0,312.5 L222.4,304.6 L222.9,302.4 L223.4,294.7 L224.0,299.5 L224.5,296.1 L225.0,298.8 L225.5,295.1 L226.0,298.0 L226.5,295.7 L226.9,300.9 L227.4,298.2 L227.9,303.7 L228.4,299.3 L228.9,302.3 L229.3,298.3 L229.8,301.1 L230.3,299.6 L230.8,303.9 L231.3,302.3 L231.8,306.7 L232.3,304.6 L232.8,309.6 L233.2,306.7 L233.7,311.3 L234.2,308.9 L234.7,313.0 L235.2,312.0 L235.6,316.9 L236.1,316.4 L236.6,322.1 L237.1,316.4 L237.6,317.4 L238.1,312.4 L238.6,312.6 L239.1,307.8 L239.6,309.4 L240.0,303.7 L240.5,305.4 L241.0,301.1 L241.5,303.9 L242.0,298.7 L242.5,301.7 L243.0,299.9 L243.4,304.3 L243.9,302.0 L244.4,307.6 L244.9,305.9 L245.4,310.4 L245.9,307.9 L246.4,313.4 L246.9,313.1 L247.3,319.5 L247.8,314.4 L248.3,315.0 L248.8,310.4 L249.3,311.3 L249.8,307.2 L250.2,308.8 L250.7,304.8 L251.2,307.7 L251.7,306.8 L252.2,312.7 L252.7,312.6 L253.2,319.3 L253.7,314.1 L254.1,316.8 L254.6,312.8 L255.1,315.3 L255.6,310.1 L256.1,312.6 L256.6,307.8 L257.0,307.2 L257.5,305.5 L258.0,307.2 L258.5,303.5 L259.0,305.4 L259.5,301.5 L260.0,303.1 L260.5,301.0 L260.9,305.1 L261.4,303.1 L261.9,303.5 L262.4,300.6 L262.9,300.1 L263.4,294.0 L263.9,294.2 L264.4,288.5 L264.9,290.8 L265.3,285.8 L265.8,287.7 L266.3,287.0 L266.8,291.2 L267.3,290.7 L267.8,295.2 L268.3,290.5 L268.8,292.3 L269.2,287.3 L269.7,289.0 L270.2,284.2 L270.7,286.0 L271.2,281.3 L271.6,283.9 L272.1,279.7 L272.6,281.5 L273.1,277.6 L273.6,278.8 L274.1,274.7 L274.6,276.6 L275.1,273.6 L275.6,277.2 L276.0,274.1 L276.5,278.6 L277.0,273.8 L277.5,276.6 L278.0,273.7 L278.5,276.5 L279.0,273.4 L279.5,276.1 L280.0,273.2 L280.5,274.6 L281.0,268.0 L281.5,269.4 L282.0,260.7 L282.5,267.7 L282.9,264.9 L283.4,268.6 L283.9,265.2 L284.4,267.0 L284.9,262.2 L285.3,264.1 L285.8,260.3 L286.3,261.7 L286.8,256.6 L287.3,258.8 L287.8,253.6 L288.3,259.1 L288.8,256.4 L289.2,262.1 L289.7,260.1 L290.2,261.1 L290.7,256.5 L291.2,259.1 L291.7,254.2 L292.2,256.5 L292.7,253.6 L293.1,256.2 L293.6,253.0 L294.1,255.9 L294.6,252.2 L295.1,254.1 L295.6,249.3 L296.1,251.4 L296.5,246.5 L297.0,249.1 L297.5,244.6 L298.0,249.0 L298.5,245.9 L299.0,253.7 L299.5,252.2 L300.0,259.0 L300.4,258.3 L300.9,266.1 L301.4,265.6 L301.9,262.5 L302.4,252.3 L302.8,249.0 L303.3,238.4 L303.8,238.8 L304.3,232.7 L304.8,233.4 L305.3,226.5 L305.8,234.7 L306.3,236.0 L306.8,243.7 L307.3,242.4 L307.7,249.3 L308.2,248.0 L308.7,246.7 L309.2,238.3 L309.7,237.2 L310.2,228.6 L310.7,230.9 L311.1,227.0 L311.6,228.8 L312.1,224.5 L312.6,223.3 L313.0,215.3 L313.5,214.7 L314.0,206.3 L314.4,205.0 L314.9,196.8 L315.4,196.5 L315.9,197.9 L316.5,205.3 L317.0,207.6 L317.5,212.3 L317.9,211.6 L318.4,216.2 L318.9,218.5 L319.4,215.9 L319.9,210.2 L320.4,211.2 L320.9,205.1 L321.4,204.2 L321.9,196.3 L322.3,195.2 L322.8,187.4 L323.3,194.2 L323.8,193.4 L324.2,199.7 L324.7,199.2 L325.2,205.9 L325.8,205.7 L326.3,212.3 L326.8,213.2 L327.2,220.2 L327.7,220.4 L328.2,226.8 L328.6,225.9 L329.1,232.0 L329.6,230.6 L330.1,235.7 L330.6,233.5 L331.1,238.3 L331.6,236.1 L332.1,243.2 L332.6,243.2 L333.0,250.4 L333.5,249.8 L334.0,256.1 L334.4,254.4 L334.9,260.1 L335.4,263.7 L336.0,254.8 L336.5,254.3 L337.0,260.4 L337.5,259.9 L338.0,258.2 L338.5,248.4 L339.0,259.6 L339.5,263.0 L340.0,261.8 L340.5,253.0 L341.0,260.3 L341.5,260.0 L342.0,257.2 L342.5,246.2 L343.0,253.6 L343.5,254.6 L344.0,245.9 L344.5,230.2 L345.2,230.0 L345.6,232.5 L346.0,241.5 L346.5,234.7 L347.0,235.1 L347.5,238.1 L348.0,247.2 L348.5,239.5 L349.0,237.7 L349.6,229.3 L350.2,227.3 L350.8,238.6 L351.2,250.7 L351.6,256.7 L352.0,249.0 L352.4,234.5 L352.8,233.8 L353.2,225.8 L353.6,194.3 L354.0,154.6 L354.4,179.8 L354.8,198.8 L355.5,237.8 L355.9,230.8 L356.3,230.0 L356.8,235.3 L357.2,248.1 L357.9,265.6 L358.6,241.8 L359.1,234.7 L359.5,233.9 L360.0,233.6 L360.5,239.6 L360.9,228.7 L361.3,224.5 L362.0,234.9 L362.5,243.9 L363.0,246.0 L363.5,254.6 L364.0,256.7 L364.6,255.6 L365.2,248.8 L365.8,257.5 L366.3,260.3 L366.8,258.4 L367.3,250.6 L367.8,256.4 L368.2,256.4 L368.6,251.7 L369.0,239.5 L369.5,248.1 L370.0,250.7 L370.5,244.2 L371.0,232.8 L371.6,236.5 L372.2,234.5 L372.7,231.5 L373.2,222.8 L373.6,228.6 L374.0,228.8 L374.5,223.7 L375.0,212.7 L375.5,208.9 L376.0,198.8 L376.5,206.8 L377.0,208.7 L377.4,209.1 L377.8,202.8 L378.2,210.1 L378.6,212.7 L379.2,233.9 L379.8,212.7 L380.2,208.1 L380.6,198.3 L381.2,173.6 L381.7,131.0 L382.3,110.6 L382.8,133.5 L383.2,191.8 L383.8,209.8 L384.4,181.3 L385.0,170.3 L385.6,151.6 L386.2,143.2 L386.8,166.1 L387.3,197.8 L387.7,219.3 L388.3,188.4 L388.9,181.7 L389.5,198.1 L390.2,189.5 L390.8,210.1 L391.5,201.9 L391.9,208.3 L392.4,221.8 L392.9,222.9 L393.3,231.1 L393.9,247.9 L394.4,271.8 L394.9,254.6 L395.3,244.2 L395.8,240.3 L396.4,244.3 L396.9,240.7 L397.4,252.2 L397.8,255.7 L398.3,253.0 L398.8,242.2 L399.3,247.0 L399.8,245.6 L400.3,250.3 L400.8,248.0 L401.3,250.1 L401.8,245.0 L402.2,246.2 L402.7,240.1 L403.1,248.4 L403.6,249.4 L404.0,257.5 L404.5,250.5 L405.0,249.4 L405.5,242.3 L406.0,241.7 L406.5,239.5 L407.1,244.2 L407.6,242.2 L408.1,248.6 L408.6,247.4 L409.0,253.2 L409.5,252.0 L410.0,264.9 L410.5,270.2 L411.0,271.4 L411.4,268.7 L411.9,266.8 L412.4,261.8 L412.9,263.0 L413.4,256.8 L413.9,258.0 L414.4,252.7 L414.9,258.2 L415.4,258.3 L415.8,264.2 L416.3,264.3 L416.8,266.3 L417.3,261.5 L417.8,263.2 L418.3,258.0 L418.8,262.4 L419.2,260.6 L419.7,264.8 L420.2,262.0 L420.7,268.6 L421.2,267.4 L421.7,274.4 L422.2,273.9 L422.6,280.5 L423.1,281.9 L423.6,282.9 L424.1,277.6 L424.6,279.4 L425.1,273.5 L425.6,275.6 L426.1,272.0 L426.5,274.2 L427.0,269.6 L427.5,270.6 L428.0,264.4 L428.5,265.5 L429.0,260.3 L429.4,245.3 L429.9,222.7 L430.4,233.5 L430.9,236.6 L431.4,248.3 L431.9,254.0 L432.4,266.5 L432.9,271.6 L433.4,266.8 L433.9,256.5 L434.3,251.7 L434.8,240.9 L435.3,243.9 L435.8,247.8 L436.2,253.7 L436.7,254.4 L437.2,255.4 L437.7,248.9 L438.2,249.7 L438.7,243.9 L439.2,247.9 L439.6,245.5 L440.1,249.4 L440.6,246.4 L441.1,238.6 L441.5,224.4 L442.2,233.1 L442.6,225.6 L443.0,223.4 L443.6,236.4 L444.3,222.3 L444.9,228.2 L445.5,202.1 L446.2,213.0 L446.8,193.9 L447.4,168.4 L448.1,140.4 L448.6,163.5 L449.2,141.3 L449.8,147.8 L450.5,129.8 L451.2,119.3 L451.6,121.8 L452.0,117.4 L452.7,126.5 L453.2,150.5 L453.8,169.3 L454.4,188.3 L455.0,207.3 L455.6,173.0 L456.2,158.9 L456.8,170.7 L457.4,193.8 L458.0,208.7 L458.7,199.1 L459.4,213.3 L460.1,202.1 L460.8,224.5 L461.2,219.8 L461.6,208.8 L462.0,217.9 L462.4,220.2 L462.9,216.7 L463.3,206.9 L464.0,189.7 L464.6,182.5 L465.2,202.2 L465.8,216.5 L466.5,227.0 L467.0,225.5 L467.5,231.7 L468.1,230.9 L468.6,236.6 L469.1,234.1 L469.6,236.9 L470.1,235.0 L470.6,238.0 L471.1,237.4 L471.6,242.7 L472.0,242.1 L472.5,248.4 L473.0,240.6 L473.5,239.6 L474.0,234.2 L474.5,234.2 L474.9,228.5 L475.4,228.8 L475.8,222.9 L476.3,230.9 L476.9,232.2 L477.4,240.1 L477.9,234.9 L478.5,235.3 L479.0,229.1 L479.4,224.6 L479.9,212.5 L480.3,207.6 L480.8,217.2 L481.3,235.0 L481.8,230.3 L482.2,232.3 L482.7,228.0 L483.2,231.0 L483.7,230.2 L484.2,235.1 L484.7,234.9 L485.2,239.9 L485.7,236.4 L486.2,238.9 L486.7,234.5 L487.2,241.7 L487.6,242.7 L488.1,250.2 L488.6,247.9 L489.1,252.5 L489.5,251.6 L490.0,255.3 L490.5,257.6 L491.0,265.1 L491.5,260.8 L492.0,263.1 L492.5,258.8 L493.0,261.7 L493.5,256.4 L493.9,258.5 L494.4,253.7 L494.9,255.8 L495.4,250.9 L496.0,252.0 L496.5,246.3 L496.9,252.6 L497.4,252.4 L497.8,257.4 L498.3,254.9 L498.8,260.2 L499.3,256.9 L499.8,261.5 L500.2,262.5 L500.7,270.3 L501.1,272.0 L501.6,266.7 L502.2,255.2 L502.7,249.9 L503.2,245.4 L503.7,247.6 L504.2,242.9 L504.7,248.7 L505.2,248.5 L505.7,255.2 L506.2,254.1 L506.7,257.8 L507.1,253.4 L507.6,256.5 L508.1,253.0 L508.6,255.1 L509.1,251.1 L509.5,253.1 L510.0,249.7 L510.5,251.5 L511.0,248.9 L511.4,252.8 L511.9,250.1 L512.4,256.9 L512.9,249.9 L513.4,252.3 L513.8,247.8 L514.3,250.4 L514.8,245.2 L515.3,247.8 L515.8,244.0 L516.4,248.2 L516.9,244.4 L517.4,248.7 L517.8,247.3 L518.3,251.8 L518.8,249.8 L519.3,254.8 L519.8,252.8 L520.3,257.2 L520.8,256.1 L521.3,260.1 L521.8,257.3 L522.2,261.7 L522.7,259.9 L523.2,265.4 L523.7,263.4 L524.1,268.5 L524.6,267.7 L525.1,272.1 L525.6,270.3 L526.1,275.0 L526.6,273.3 L527.1,274.8 L527.5,269.1 L528.0,271.2 L528.5,266.0 L529.0,267.9 L529.5,264.5 L530.0,265.0 L530.5,266.2 L531.0,266.0 L531.5,267.5 L531.9,272.5 L532.4,271.3 L532.9,274.3 L533.4,270.8 L533.9,273.5 L534.4,269.9 L534.9,273.2 L535.3,270.3 L535.8,276.0 L536.3,271.6 L536.8,274.6 L537.3,272.0 L537.8,275.7 L538.3,269.4 L538.8,281.6 L539.2,283.1 L539.7,288.0 L540.3,286.5 L540.8,292.0 L541.3,291.8 L541.7,298.8 L542.2,298.7 L542.7,300.2 L543.2,295.5 L543.6,297.4 L544.1,292.9 L544.6,293.9 L545.0,289.1 L545.5,290.8 L546.0,285.0 L546.5,289.4 L547.0,287.1 L547.5,290.9 L548.0,289.1 L548.5,290.9 L549.0,287.3 L549.4,289.5 L549.9,285.4 L550.4,287.4 L550.9,283.7 L551.4,286.8 L551.9,282.7 L552.4,287.2 L552.8,285.1 L553.3,289.0 L553.8,286.9 L554.3,289.2 L554.8,284.8 L555.3,287.8 L555.8,283.2 L556.3,287.9 L556.8,285.6 L557.2,290.8 L557.7,289.2 L558.2,296.5 L558.7,297.6 L559.2,305.3 L559.7,306.8 L560.2,310.0 L560.7,307.8 L561.1,311.0 L561.6,308.6 L562.1,314.4 L562.6,314.6 L563.1,320.2 L563.6,319.6 L564.0,328.6 L564.5,330.2 L565.0,331.1 L565.5,326.7 L566.0,328.6 L566.5,323.7 L567.0,312.1 L567.4,292.7 L567.9,302.2 L568.3,305.5 L568.8,315.0 L569.3,310.7 L569.9,311.5 L570.4,307.0 L570.9,302.9 L571.4,292.0 L571.9,288.9 L572.4,288.8 L572.8,299.1 L573.3,295.1 L573.8,302.5 L574.3,297.3 L574.8,299.1 L575.3,294.7 L575.8,296.3 L576.3,285.0 L576.8,281.0 L577.2,270.6 L577.7,266.2 L578.2,275.1 L578.7,290.9 L579.2,289.2 L579.6,294.1 L580.1,292.7 L580.6,297.0 L581.1,293.9 L581.6,298.4 L582.1,301.3 L582.7,309.7 L583.2,312.0 L583.6,313.1 L584.1,307.2 L584.5,308.3 L585.0,307.2 L585.5,312.4 L586.0,312.4 L586.5,318.0 L587.0,315.2 L587.5,319.4 L587.9,317.8 L588.4,322.1 L588.9,320.2 L589.4,325.0 L589.9,323.1 L590.4,327.0 L590.8,329.6 L591.3,337.0 L591.8,337.1 L592.3,342.7 L592.8,338.7 L593.3,341.2 L593.8,336.9 L594.3,339.1 L594.8,335.6 L595.2,337.9 L595.7,333.9 L596.2,337.6 L596.7,335.1 L597.2,339.0 L597.7,336.6 L598.2,341.3 L598.7,337.3 L599.2,340.5 L599.6,337.2 L600.1,340.2 L600.6,337.9 L601.0,342.8 L601.5,340.4 L602.0,345.2 L602.5,342.5 L603.0,346.5 L603.5,343.4 L604.0,346.5 L604.5,341.7 L605.0,343.9 L605.4,339.6 L605.9,341.4 L606.4,337.1 L606.9,339.5 L607.4,336.3 L607.9,338.4 L608.4,334.2 L608.9,336.9 L609.4,333.0 L609.8,334.7 L610.3,330.0 L610.8,331.0 L611.3,327.2 L611.8,329.9 L612.2,327.0 L612.7,332.5 L613.2,325.7 L613.7,328.5 L614.2,324.7 L614.7,327.2 L615.2,325.1 L615.7,329.8 L616.1,327.4 L616.6,331.5 L617.1,326.3 L617.7,327.1 L618.2,322.2 L618.7,328.5 L619.1,327.2 L619.6,333.0 L620.0,322.2 L620.5,317.6 L621.0,315.5 L621.5,319.4 L622.0,317.7 L622.5,321.3 L623.0,315.8 L623.5,317.0 L623.9,311.4 L624.4,312.0 L624.9,307.3 L625.3,309.8 L625.8,305.1 L626.2,307.0 L626.9,314.2 L627.4,320.0 L627.9,317.6 L628.4,323.4 L628.9,322.0 L629.4,326.5 L629.8,325.4 L630.3,329.8 L630.8,328.3 L631.3,330.4 L631.8,325.9 L632.3,327.8 L632.8,324.4 L633.3,325.9 L633.8,321.7 L634.2,324.2 L634.7,319.7 L635.2,317.5 L635.7,309.6 L636.1,307.3 L636.6,298.7 L637.1,305.7 L637.5,306.6 L638.0,313.1 L638.5,307.2 L639.0,307.1 L639.5,299.6 L640.0,300.4 L640.5,299.1 L641.0,303.5 L641.4,302.1 L641.9,308.1 L642.4,305.7 L642.8,310.0 L643.3,307.4 L643.8,312.2 L644.3,307.1 L644.9,309.4 L645.4,304.3 L645.9,308.8 L646.3,305.9 L646.8,310.6 L647.3,307.8 L647.8,312.5 L648.3,310.5 L648.8,314.7 L649.3,311.9 L649.8,314.4 L650.2,309.8 L650.7,312.4 L651.2,308.7 L651.7,311.1 L652.2,306.3 L652.7,308.3 L653.2,304.9 L653.7,306.6 L654.2,302.5 L654.6,305.1 L655.1,300.2 L655.6,303.1 L656.1,299.6 L656.6,302.8 L657.1,298.9 L657.6,302.1 L658.0,299.1 L658.5,303.3 L659.0,300.9 L659.5,303.5 L660.0,299.1 L660.5,302.4 L660.9,298.0 L661.4,301.0 L661.9,297.1 L662.4,301.4 L662.9,298.8 L663.4,303.2 L663.9,300.5 L664.4,305.1 L664.9,302.5 L665.4,306.8 L665.8,303.8 L666.3,307.4 L666.8,304.6 L667.3,306.8 L667.8,301.3 L668.2,303.8 L668.7,299.0 L669.2,301.5 L669.7,297.6 L670.2,300.0 L670.7,296.8 L671.2,300.8 L671.7,299.1 L672.1,302.5 L672.6,301.1 L673.1,305.7 L673.6,306.4 L674.1,308.7 L674.6,306.0 L675.1,308.6 L675.5,304.3 L676.0,307.0 L676.5,303.0 L677.0,302.8 L677.6,297.5 L678.1,298.2 L678.6,286.7 L679.1,276.2 L679.5,275.8 L680.0,282.6 L680.4,283.4 L680.9,291.2 L681.3,291.8 L681.8,300.1 L682.4,309.3 L683.0,325.5 L683.4,318.4 L683.9,318.7 L684.3,311.4 L684.8,316.6 L685.3,314.4 L685.8,319.0 L686.3,315.8 L686.8,314.4 L687.3,308.7 L687.8,309.0 L688.3,302.9 L688.8,303.9 L689.2,298.9 L689.7,299.2 L690.2,293.9 L690.7,296.0 L691.2,290.0 L691.7,291.5 L692.2,286.5 L692.7,287.5 L693.1,282.1 L693.6,283.6 L694.1,277.7 L694.6,276.6 L695.1,269.9 L695.6,270.1 L696.0,272.0 L696.5,279.9 L697.0,272.5 L697.5,271.7 L698.0,265.3 L698.5,264.3 L699.0,262.4 L699.5,266.4 L699.9,263.8 L700.4,268.8 L700.9,263.1 L701.4,265.2 L701.9,261.2 L702.4,262.3 L702.9,258.6 L703.3,261.2 L703.8,257.4 L704.3,260.8 L704.8,256.5 L705.3,259.5 L705.8,255.3 L706.3,259.0 L706.8,253.4 L707.2,255.5 L707.7,251.1 L708.2,252.7 L708.7,247.6 L709.1,249.1 L709.6,243.8 L710.1,248.3 L710.6,243.1 L711.1,250.6 L711.6,248.6 L712.1,247.5 L712.6,242.6 L713.1,244.4 L713.6,242.1 L714.0,246.0 L714.5,243.1 L715.0,247.5 L715.5,244.1 L716.0,249.4 L716.5,247.0 L717.0,250.3 L717.5,246.5 L718.0,249.4 L718.4,245.6 L718.9,248.7 L719.4,244.6 L719.9,246.7 L720.4,242.1 L720.9,244.7 L721.4,240.4 L721.8,242.2 L722.3,237.6 L722.8,240.6 L723.3,237.9 L723.8,242.1 L724.2,238.8 L724.7,243.4 L725.2,241.7 L725.7,245.4 L726.2,244.2 L726.7,249.1 L727.2,243.9 L727.7,246.0 L728.1,241.0 L728.6,242.9 L729.1,239.4 L729.6,242.4 L730.1,238.5 L730.6,241.7 L731.1,238.6 L731.5,242.6 L732.0,240.5 L732.5,245.2 L733.0,244.7 L733.5,251.6 L734.0,251.8 L734.5,258.2 L735.0,254.5 L735.5,256.3 L735.9,252.2 L736.4,254.8 L736.9,253.3 L737.4,259.7 L737.9,258.9 L738.4,264.8 L738.8,264.1 L739.3,270.1 L739.7,269.7 L740.2,270.7 L740.8,265.6 L741.3,266.3 L741.8,258.9 L742.3,258.1 L742.8,251.7 L743.3,252.5 L743.8,247.1 L744.3,248.9 L744.8,245.4 L745.3,245.8 L745.8,242.6 L746.2,244.9 L746.7,241.8 L747.2,246.0 L747.7,243.4 L748.1,247.8 L748.6,245.9 L749.1,247.0 L749.6,242.6 L750.1,244.4 L750.6,239.6 L751.1,241.4 L751.5,236.9 L752.0,238.6 L752.5,233.5 L753.0,236.5 L753.5,233.8 L754.0,236.9 L754.5,233.4 L755.0,238.0 L755.5,235.6 L755.9,239.8 L756.4,237.1 L756.9,241.8 L757.4,239.1 L757.9,244.0 L758.4,241.9 L758.9,245.7 L759.3,243.1 L759.8,247.3 L760.3,245.0 L760.8,249.2 L761.3,247.2 L761.8,251.8 L762.3,249.3 L762.8,252.3 L763.2,248.2 L763.7,251.4 L764.2,247.6 L764.7,255.1 L765.2,250.6 L765.7,255.1 L766.2,253.2 L766.6,257.2 L767.1,254.7 L767.5,258.3 L768.0,253.3 L768.6,254.2 L769.1,248.8 L769.6,251.3 L770.0,245.8 L770.5,248.1 L771.0,243.2 L771.5,246.6 L772.0,243.9 L772.5,247.6 L773.0,245.4 L773.5,248.3 L774.0,245.2 L774.4,248.9 L774.9,245.7 L775.4,247.6 L775.9,242.8 L776.4,244.6 L776.9,240.0 L777.4,239.4 L777.9,232.6 L778.4,232.3 L778.9,232.9 L779.3,240.8 L779.8,241.3 L780.3,242.9 L780.8,238.9 L781.2,240.7 L781.7,235.6 L782.2,239.8 L782.7,237.0 L783.2,240.3 L783.7,237.1 L784.2,240.1 L784.7,235.8 L785.1,238.0 L785.6,233.2 L786.1,235.7 L786.6,231.9 L787.1,233.8 L787.6,229.5 L788.1,234.1 L788.5,232.8 L789.0,236.9 L789.5,235.4 L790.0,238.0 L790.5,234.1 L790.9,235.4 L791.4,231.2 L791.9,234.1 L792.4,230.9 L792.9,233.8 L793.4,229.8 L793.9,234.3 L794.3,231.6 L794.8,236.1 L795.3,234.2 L795.8,237.5 L796.3,236.0 L796.8,239.9 L797.3,237.7 L797.8,242.5 L798.3,239.9 L798.8,245.0 L799.3,243.0 L799.8,246.7 L800.3,243.4 L800.8,246.5 L801.2,242.1 L801.7,245.5 L802.2,241.6 L802.7,246.5 L803.2,240.8 L803.7,243.1 L804.2,242.3 L804.7,247.1 L805.1,245.8 L805.6,250.9 L806.1,248.6 L806.6,252.6 L807.1,249.0 L807.6,252.8 L808.1,253.1 L808.5,259.2 L809.0,258.8 L809.5,264.2 L810.0,262.9 L810.5,268.5 L811.0,267.7 L811.5,272.1 L812.0,271.5 L812.5,276.7 L813.0,274.7 L813.5,277.9 L814.0,275.5 L814.5,278.7 L815.0,275.3 L815.4,279.9 L815.9,278.0 L816.3,282.7 L816.8,282.1 L817.2,287.1 L817.7,287.1 L818.2,286.4 L818.7,278.5 L819.2,278.6 L819.7,272.0 L820.1,270.7 L820.6,264.5 L821.1,271.2 L821.6,270.7 L822.1,276.2 L822.6,274.9 L823.1,280.3 L823.6,280.2 L824.2,286.8 L824.7,286.5 L825.1,292.8 L825.6,292.8 L826.0,299.3 L826.5,297.2 L827.0,301.7 L827.5,299.2 L828.0,303.8 L828.5,299.5 L829.0,302.9 L829.5,299.1 L830.0,301.7 L830.5,291.1 L831.0,287.8 L831.5,276.8 L831.9,289.1 L832.3,294.6 L832.8,300.2 L833.4,298.2 L833.9,313.5 L834.4,321.8 L834.9,326.9 L835.4,325.5 L835.9,331.3 L836.4,328.8 L836.8,332.4 L837.3,329.7 L837.8,332.8 L838.3,330.0 L838.8,334.7 L839.3,331.4 L839.8,334.9 L840.3,336.9 L840.8,344.8 L841.2,346.9 L841.7,354.6 L842.2,353.0 L842.7,358.4 L843.2,353.5 L843.7,355.8 L844.1,350.4 L844.6,352.2 L845.1,352.8 L845.6,358.7 L846.1,358.0 L846.6,365.0 L847.1,365.7 L847.6,373.7 L848.1,372.4 L848.6,376.8 L849.1,375.0 L849.6,375.9 L850.0,370.7 L850.5,372.6 L850.9,372.0 L851.4,375.8 L851.8,378.7 L852.3,385.0 L852.9,383.6 L853.4,389.6 L853.9,387.4 L854.3,392.3 L854.8,390.7 L855.3,395.4 L855.8,391.6 L856.3,394.9 L856.8,390.8 L857.3,394.2 L857.8,390.6 L858.3,394.8 L858.8,392.0 L859.3,400.9 L859.8,403.3 L860.4,409.5 L861.0,408.7 L861.6,415.6 L862.2,415.1 L862.6,411.9 L863.0,402.6 L863.4,419.2 L863.8,428.7 L864.2,424.6 L864.6,413.5 L865.0,429.2 L865.4,439.5 L865.8,447.7 L866.2,448.7 L866.6,445.6 L867.0,436.2 L867.4,436.4 L867.8,430.1 L868.5,452.7 L868.9,452.6 L869.3,459.5 L870.0,461.3 L870.4,458.3 L870.8,448.1 L871.2,444.0 L871.6,432.5 L872.0,442.4 L872.4,446.8 L872.8,456.4 L873.2,459.4 L873.6,459.2 L874.0,453.2 L874.4,451.3 L874.8,442.0 L875.2,443.1 L875.6,436.5 L876.0,444.0 L876.5,444.7 L877.0,442.7 L877.5,434.2 L878.0,439.7 L878.5,439.8 L879.0,441.2 L879.5,436.2 L880.0,443.5 L880.5,444.6 L881.0,446.0 L881.5,440.7 L882.0,447.9 L882.4,447.9 L883.0,438.4 L883.5,421.2 L884.0,428.7 L884.5,430.1 L885.2,429.4 L885.6,422.5 L886.0,422.0 L886.4,422.0 L886.8,427.8 L887.2,430.0 L887.6,439.9 L888.2,439.5 L888.8,446.1 L889.4,447.2 L890.0,453.2 L890.5,448.3 L891.0,449.1 L891.6,451.8 L892.2,459.8 L892.7,459.0 L893.2,464.3 L893.8,438.7 L894.5,430.0 L895.0,421.4 L895.4,418.1 L896.0,436.4 L896.4,435.8 L896.8,428.3 L897.5,443.7 L898.2,436.7 L898.6,441.2 L899.0,437.8 L899.5,437.7 L900.0,429.4 L900.5,437.1 L901.0,438.1 L901.5,442.8 L902.0,441.1 L902.5,445.3 L903.0,443.0 L903.5,446.7 L904.0,444.7 L904.5,449.0 L905.0,446.5 L905.5,452.1 L906.0,449.1 L906.5,453.2 L907.0,451.9 L907.5,455.9 L908.0,453.6 L908.5,457.3 L909.0,455.8 L909.5,461.1 L910.0,460.5 L910.5,464.7 L911.0,462.1 L911.5,465.3 L911.9,463.4 L912.4,468.1 L912.8,465.4 L913.3,468.9 L913.8,466.6 L914.3,470.3 L914.9,468.9 L915.4,472.9 L916.0,472.0" fill="none" stroke="#f9a83f" stroke-width="1.3" stroke-linejoin="round"/>
<circle cx="916.2" cy="472.1" r="10.9" fill="#e4dc00" fill-opacity="0.45" stroke="#e4e016" stroke-width="2.2" stroke-dasharray="4.3 2.2"/>
<line x1="937" y1="74" x2="937" y2="508.5" stroke="#e0e0e0" stroke-width="1.6"/>
<path d="M937,101.10 L943,103.70 L937,106.30 Z" fill="#e8e8e8"/>
<text x="945.5" y="110.30" font-family='"Liberation Sans", sans-serif' font-size="18.3" fill="#e0e0e0">4000</text>
<path d="M937,161.25 L943,163.85 L937,166.45 Z" fill="#e8e8e8"/>
<text x="945.5" y="170.45" font-family='"Liberation Sans", sans-serif' font-size="18.3" fill="#e0e0e0">3000</text>
<path d="M937,221.40 L943,224.00 L937,226.60 Z" fill="#e8e8e8"/>
<text x="945.5" y="230.60" font-family='"Liberation Sans", sans-serif' font-size="18.3" fill="#e0e0e0">2000</text>
<path d="M937,281.55 L943,284.15 L937,286.75 Z" fill="#e8e8e8"/>
<text x="945.5" y="290.75" font-family='"Liberation Sans", sans-serif' font-size="18.3" fill="#e0e0e0">1000</text>
<path d="M937,341.70 L943,344.30 L937,346.90 Z" fill="#e8e8e8"/>
<text x="945.5" y="350.90" font-family='"Liberation Sans", sans-serif' font-size="18.3" fill="#e0e0e0">0</text>
<path d="M937,401.85 L943,404.45 L937,407.05 Z" fill="#e8e8e8"/>
<text x="945.5" y="411.05" font-family='"Liberation Sans", sans-serif' font-size="18.3" fill="#e0e0e0">-1000</text>
<path d="M937,462.00 L943,464.60 L937,467.20 Z" fill="#e8e8e8"/>
<text x="945.5" y="471.20" font-family='"Liberation Sans", sans-serif' font-size="18.3" fill="#e0e0e0">-2000</text>
<line x1="937" y1="133.78" x2="941" y2="133.78" stroke="#d0d0d0" stroke-width="1"/>
<line x1="937" y1="193.93" x2="941" y2="193.93" stroke="#d0d0d0" stroke-width="1"/>
<line x1="937" y1="254.07" x2="941" y2="254.07" stroke="#d0d0d0" stroke-width="1"/>
<line x1="937" y1="314.23" x2="941" y2="314.23" stroke="#d0d0d0" stroke-width="1"/>
<line x1="937" y1="374.38" x2="941" y2="374.38" stroke="#d0d0d0" stroke-width="1"/>
<line x1="937" y1="434.53" x2="941" y2="434.53" stroke="#d0d0d0" stroke-width="1"/>
<line x1="937" y1="494.68" x2="941" y2="494.68" stroke="#d0d0d0" stroke-width="1"/>
<text transform="translate(1003.2,217.8) rotate(90)" x="0" y="0" font-family='"Liberation Sans", sans-serif' font-size="23.5" fill="#e0e0e0" textLength="148" lengthAdjust="spacingAndGlyphs">Forward points</text>
<line x1="0" y1="508.2" x2="937.6" y2="508.2" stroke="#d8d8d8" stroke-width="1.4"/>
<line x1="20.9" y1="508" x2="20.9" y2="552" stroke="#9a9a9a" stroke-width="1"/>
<line x1="92.5" y1="508" x2="92.5" y2="552" stroke="#9a9a9a" stroke-width="1"/>
<line x1="164.4" y1="508" x2="164.4" y2="552" stroke="#9a9a9a" stroke-width="1"/>
<line x1="236" y1="508" x2="236" y2="552" stroke="#9a9a9a" stroke-width="1"/>
<line x1="307.75" y1="508" x2="307.75" y2="552" stroke="#9a9a9a" stroke-width="1"/>
<line x1="379.5" y1="508" x2="379.5" y2="552" stroke="#9a9a9a" stroke-width="1"/>
<line x1="451" y1="508" x2="451" y2="552" stroke="#9a9a9a" stroke-width="1"/>
<line x1="522.7" y1="508" x2="522.7" y2="552" stroke="#9a9a9a" stroke-width="1"/>
<line x1="594.4" y1="508" x2="594.4" y2="552" stroke="#9a9a9a" stroke-width="1"/>
<line x1="666" y1="508" x2="666" y2="552" stroke="#9a9a9a" stroke-width="1"/>
<line x1="737.8" y1="508" x2="737.8" y2="552" stroke="#9a9a9a" stroke-width="1"/>
<line x1="809.5" y1="508" x2="809.5" y2="552" stroke="#9a9a9a" stroke-width="1"/>
<line x1="881" y1="508" x2="881" y2="552" stroke="#9a9a9a" stroke-width="1"/>
<text x="56.7" y="547.8" text-anchor="middle" font-family='"Liberation Sans", sans-serif' font-size="18.5" fill="#dcdcdc">2011</text>
<text x="128.4" y="547.8" text-anchor="middle" font-family='"Liberation Sans", sans-serif' font-size="18.5" fill="#dcdcdc">2012</text>
<text x="200.2" y="547.8" text-anchor="middle" font-family='"Liberation Sans", sans-serif' font-size="18.5" fill="#dcdcdc">2013</text>
<text x="271.9" y="547.8" text-anchor="middle" font-family='"Liberation Sans", sans-serif' font-size="18.5" fill="#dcdcdc">2014</text>
<text x="343.6" y="547.8" text-anchor="middle" font-family='"Liberation Sans", sans-serif' font-size="18.5" fill="#dcdcdc">2015</text>
<text x="415.2" y="547.8" text-anchor="middle" font-family='"Liberation Sans", sans-serif' font-size="18.5" fill="#dcdcdc">2016</text>
<text x="486.9" y="547.8" text-anchor="middle" font-family='"Liberation Sans", sans-serif' font-size="18.5" fill="#dcdcdc">2017</text>
<text x="558.5" y="547.8" text-anchor="middle" font-family='"Liberation Sans", sans-serif' font-size="18.5" fill="#dcdcdc">2018</text>
<text x="630.2" y="547.8" text-anchor="middle" font-family='"Liberation Sans", sans-serif' font-size="18.5" fill="#dcdcdc">2019</text>
<text x="701.9" y="547.8" text-anchor="middle" font-family='"Liberation Sans", sans-serif' font-size="18.5" fill="#dcdcdc">2020</text>
<text x="773.6" y="547.8" text-anchor="middle" font-family='"Liberation Sans", sans-serif' font-size="18.5" fill="#dcdcdc">2021</text>
<text x="845.2" y="547.8" text-anchor="middle" font-family='"Liberation Sans", sans-serif' font-size="18.5" fill="#dcdcdc">2022</text>
<text x="907.8" y="547.8" text-anchor="middle" font-family='"Liberation Sans", sans-serif' font-size="18.5" fill="#dcdcdc">2023</text>
<text x="5" y="570" font-family='"Liberation Sans", sans-serif' font-weight="bold" font-size="14.5" fill="#f0f0f0" textLength="157.5" lengthAdjust="spacingAndGlyphs">Source: Bloomberg</text>
<text x="895" y="568.5" font-family='"Liberation Sans", sans-serif' font-weight="normal" font-size="18.5" fill="#ffffff" stroke="#ffffff" stroke-width="0.6" textLength="100.5" lengthAdjust="spacingAndGlyphs">Bloomberg</text>
<path d="M1007.5,554.3 h11.7 a1.6,1.6 0 0 1 1.6,1.6 v11 a1.6,1.6 0 0 1 -1.6,1.6 h-3.4 l-2.5,3.1 l-2.5,-3.1 h-3.3 a1.6,1.6 0 0 1 -1.6,-1.6 v-11 a1.6,1.6 0 0 1 1.6,-1.6 Z" fill="#ffffff"/>
<rect x="1007.9" y="562" width="1.4" height="3.8" fill="#000"/>
<rect x="1011" y="559.7" width="1.4" height="6.1" fill="#000"/>
<rect x="1013.8" y="558.1" width="1.4" height="7.7" fill="#000"/>
<rect x="1016.9" y="561.5" width="1.4" height="4.3" fill="#000"/>
</svg>
</body></html>
